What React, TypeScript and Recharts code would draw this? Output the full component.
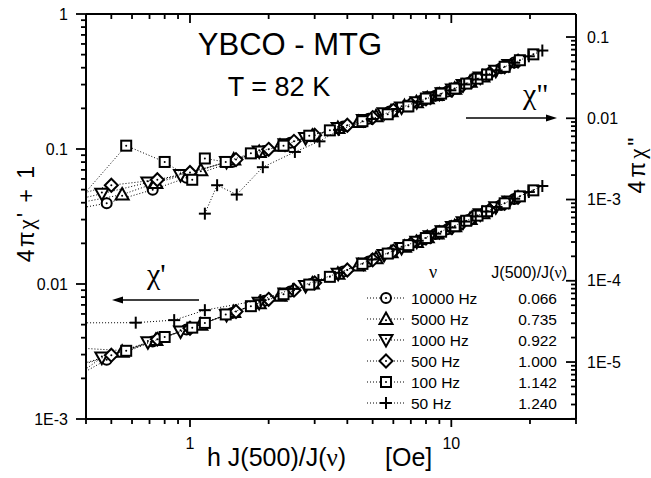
import { ComposedChart, Scatter, XAxis, YAxis } from "recharts";

const SANS = '"Liberation Sans", Arial, sans-serif';
const SERIF = '"Liberation Serif", "Times New Roman", serif';

// field axis h J(500)/J(nu), one list per frequency
const C10000_X = [0.24, 0.48, 0.72, 0.97, 1.45, 1.93, 2.42, 2.9, 3.86, 4.83, 5.8, 6.76, 7.73, 8.69, 9.66, 10.6, 11.6, 13.5, 15.5, 17.4];
const C10000_CHI2 = [6.0e-4, 9.0e-4, 1.32e-3, 1.85e-3, 2.9e-3, 3.95e-3, 5.0e-3, 6.0e-3, 7.9e-3, 9.9e-3, 0.0121, 0.0143, 0.0167, 0.0189, 0.0214, 0.024, 0.0272, 0.0337, 0.0412, 0.0485];
const C10000_CHI1 = [1.3e-3, 2.75e-3, 3.75e-3, 4.6e-3, 6.1e-3, 7.5e-3, 8.8e-3, 0.01, 0.0124, 0.0147, 0.017, 0.0193, 0.0213, 0.0235, 0.0254, 0.0276, 0.0298, 0.0341, 0.0385, 0.0427];

const C5000_X = [0.18, 0.37, 0.55, 0.74, 1.1, 1.47, 1.84, 2.21, 2.94, 3.68, 4.41, 5.15, 5.88, 6.62, 7.35, 8.09, 8.82, 10.3, 11.8, 13.2];
const C5000_CHI2 = [5.0e-4, 9.0e-4, 1.15e-3, 1.6e-3, 2.3e-3, 3.1e-3, 3.85e-3, 4.6e-3, 6.1e-3, 7.6e-3, 9.0e-3, 0.0106, 0.0122, 0.0141, 0.0157, 0.0176, 0.0193, 0.0231, 0.0282, 0.0327];
const C5000_CHI1 = [1.5e-3, 2.45e-3, 3.15e-3, 3.85e-3, 5.0e-3, 6.2e-3, 7.2e-3, 8.2e-3, 0.0101, 0.0119, 0.0137, 0.0155, 0.0172, 0.0189, 0.0205, 0.0222, 0.0237, 0.0268, 0.0303, 0.0334];

const C1000_X = [0.23, 0.46, 0.69, 0.92, 1.38, 1.84, 2.31, 2.77, 3.69, 4.61, 5.53, 6.45, 7.38, 8.3, 9.22, 10.1, 11.1, 12.9, 14.8, 16.6];
const C1000_CHI2 = [7.0e-4, 1.18e-3, 1.62e-3, 2.0e-3, 2.9e-3, 3.9e-3, 4.8e-3, 5.7e-3, 7.6e-3, 9.5e-3, 0.0115, 0.0136, 0.0158, 0.0181, 0.0203, 0.0226, 0.0257, 0.0318, 0.0385, 0.0452];
const C1000_CHI1 = [1.1e-3, 2.85e-3, 3.7e-3, 4.45e-3, 5.9e-3, 7.25e-3, 8.5e-3, 9.65e-3, 0.0119, 0.0142, 0.0164, 0.0185, 0.0206, 0.0226, 0.0246, 0.0264, 0.0287, 0.0328, 0.037, 0.0409];

const C500_X = [0.25, 0.5, 0.75, 1, 1.5, 2, 2.5, 3, 4, 5, 6, 7, 8, 9, 10, 11, 12, 14, 16, 18];
const C500_CHI2 = [8.0e-4, 1.5e-3, 1.75e-3, 2.15e-3, 3.1e-3, 4.15e-3, 5.2e-3, 6.2e-3, 8.2e-3, 0.0102, 0.0125, 0.0149, 0.0173, 0.0198, 0.0222, 0.0254, 0.0287, 0.0356, 0.043, 0.0506];
const C500_CHI1 = [2.0e-3, 2.97e-3, 3.9e-3, 4.7e-3, 6.25e-3, 7.7e-3, 9.0e-3, 0.0102, 0.0127, 0.0151, 0.0175, 0.0198, 0.0219, 0.0241, 0.0262, 0.0284, 0.0308, 0.0352, 0.0396, 0.0439];

const C100_X = [0.29, 0.57, 0.8, 1.02, 1.14, 1.37, 1.71, 2.28, 2.86, 3.43, 4.57, 5.71, 6.85, 7.99, 9.14, 10.3, 11.4, 12.6, 13.7, 16.0, 18.3, 20.6];
const C100_CHI2 = [3.8e-4, 4.6e-3, 2.9e-3, 1.75e-3, 3.2e-3, 2.9e-3, 3.7e-3, 4.6e-3, 6.1e-3, 7.1e-3, 9.2e-3, 0.0112, 0.014, 0.0175, 0.0201, 0.0232, 0.0267, 0.0307, 0.0346, 0.043, 0.0518, 0.0612];
const C100_CHI1 = [3.45e-3, 3.2e-3, 4.05e-3, 4.75e-3, 5.15e-3, 5.95e-3, 6.85e-3, 8.4e-3, 9.9e-3, 0.0113, 0.0141, 0.0168, 0.0194, 0.0219, 0.0244, 0.0268, 0.0294, 0.0321, 0.0346, 0.0396, 0.0446, 0.0494];

// 50 Hz: chi'' only measurable above h ~ 1
const C50_X2 = [1.14, 1.27, 1.51, 1.9, 2.52, 3.13, 3.72, 4.96, 6.2, 7.44, 8.68, 9.92, 11.2, 12.4, 13.6, 14.9, 17.4, 19.8, 22.3];
const C50_CHI2 = [6.7e-4, 1.5e-3, 1.15e-3, 2.5e-3, 3.85e-3, 5.2e-3, 7.2e-3, 9.8e-3, 0.013, 0.016, 0.019, 0.0221, 0.0261, 0.03, 0.0343, 0.0388, 0.0483, 0.0579, 0.0682];
const C50_X1 = [0.31, 0.62, 0.87, 1.14, 1.86, 2.48, 3.1, 3.72, 4.96, 6.2, 7.44, 8.68, 9.92, 11.2, 12.4, 13.6, 14.9, 17.4, 19.8, 22.3];
const C50_CHI1 = [5.15e-3, 5.17e-3, 5.4e-3, 6.4e-3, 7.6e-3, 9.2e-3, 0.0107, 0.0121, 0.0152, 0.0181, 0.0209, 0.0236, 0.0262, 0.029, 0.0317, 0.0344, 0.0372, 0.0428, 0.048, 0.0532];

const FREQ_LABELS = ["10000 Hz", "5000 Hz", "1000 Hz", "500 Hz", "100 Hz", "50 Hz"];
const RATIO_LABELS = ["0.066", "0.735", "0.922", "1.000", "1.142", "1.240"];
const MARKERS = ["circle", "up", "down", "diamond", "square", "plus"];

const X_TICKS = [0.4, 0.5, 0.6, 0.7, 0.8, 0.9, 1, 2, 3, 4, 5, 6, 7, 8, 9, 10, 20, 30];
const L_TICKS = [
  0.001, 0.002, 0.003, 0.004, 0.005, 0.006, 0.007, 0.008, 0.009,
  0.01, 0.02, 0.03, 0.04, 0.05, 0.06, 0.07, 0.08, 0.09,
  0.1, 0.2, 0.3, 0.4, 0.5, 0.6, 0.7, 0.8, 0.9, 1,
];
const R_TICKS = [
  2e-6, 3e-6, 4e-6, 5e-6, 6e-6, 7e-6, 8e-6, 9e-6,
  1e-5, 2e-5, 3e-5, 4e-5, 5e-5, 6e-5, 7e-5, 8e-5, 9e-5,
  1e-4, 2e-4, 3e-4, 4e-4, 5e-4, 6e-4, 7e-4, 8e-4, 9e-4,
  1e-3, 2e-3, 3e-3, 4e-3, 5e-3, 6e-3, 7e-3, 8e-3, 9e-3,
  0.01, 0.02, 0.03, 0.04, 0.05, 0.06, 0.07, 0.08, 0.09, 0.1,
];
const X_LABELS: Record<string, string> = { "1": "1", "10": "10" };
const L_LABELS: Record<string, string> = { "1": "1", "0.1": "0.1", "0.01": "0.01", "0.001": "1E-3" };
const R_LABELS: Record<string, string> = { "0.1": "0.1", "0.01": "0.01", "0.001": "1E-3", "0.0001": "1E-4", "0.00001": "1E-5" };

const pts = (xs: number[], ys: number[]) => xs.map((x, i) => ({ x, y: ys[i] }));

const CHI1_SETS = [
  pts(C10000_X, C10000_CHI1),
  pts(C5000_X, C5000_CHI1),
  pts(C1000_X, C1000_CHI1),
  pts(C500_X, C500_CHI1),
  pts(C100_X, C100_CHI1),
  pts(C50_X1, C50_CHI1),
];
const CHI2_SETS = [
  pts(C10000_X, C10000_CHI2),
  pts(C5000_X, C5000_CHI2),
  pts(C1000_X, C1000_CHI2),
  pts(C500_X, C500_CHI2),
  pts(C100_X, C100_CHI2),
  pts(C50_X2, C50_CHI2),
];

const isDecade = (v: number) => {
  const l = Math.log10(v);
  return Math.abs(l - Math.round(l)) < 1e-9;
};

function Marker({ kind, cx, cy }: { kind: string; cx: number; cy: number }) {
  const s = { stroke: "#000", strokeWidth: 2, fill: "#fff" };
  const dot = (dy = 0) => <circle cx={cx} cy={cy + dy} r={1} fill="#000" />;
  switch (kind) {
    case "circle":
      return (
        <g>
          <circle cx={cx} cy={cy} r={5} {...s} />
          {dot()}
        </g>
      );
    case "up":
      return (
        <g>
          <polygon points={`${cx},${cy - 6.5} ${cx + 6.5},${cy + 5} ${cx - 6.5},${cy + 5}`} {...s} />
          {dot(1.2)}
        </g>
      );
    case "down":
      return (
        <g>
          <polygon points={`${cx},${cy + 6.5} ${cx + 6.5},${cy - 5} ${cx - 6.5},${cy - 5}`} {...s} />
          {dot(-1.2)}
        </g>
      );
    case "diamond":
      return (
        <g>
          <polygon points={`${cx},${cy - 6.5} ${cx + 6.5},${cy} ${cx},${cy + 6.5} ${cx - 6.5},${cy}`} {...s} />
          {dot()}
        </g>
      );
    case "square":
      return (
        <g>
          <rect x={cx - 5} y={cy - 5} width={10} height={10} {...s} />
          {dot()}
        </g>
      );
    default:
      return (
        <g stroke="#000" strokeWidth={2}>
          <line x1={cx - 6} x2={cx + 6} y1={cy} y2={cy} />
          <line x1={cx} x2={cx} y1={cy - 6} y2={cy + 6} />
        </g>
      );
  }
}

const tickText = { fontFamily: SANS, fontSize: 16, fill: "#000" };
const tickStroke = { stroke: "#000", strokeWidth: 1.8 };

// tick renderers: tickSize/tickMargin are 0, so x/y sit on the axis line
function BottomTick({ x, y, payload }: any) {
  const v = payload.value;
  const px = Number(x);
  const py = Number(y);
  const label = X_LABELS[String(v)];
  return (
    <g>
      <line x1={px} x2={px} y1={py} y2={py + (isDecade(v) ? 8 : 5)} {...tickStroke} />
      {label && (
        <text x={px} y={py + 30} textAnchor="middle" {...tickText}>
          {label}
        </text>
      )}
    </g>
  );
}

function TopTick({ x, y, payload }: any) {
  const v = payload.value;
  const px = Number(x);
  const py = Number(y);
  return (
    <g>
      <line x1={px} x2={px} y1={py} y2={py + (isDecade(v) ? 9 : 5)} {...tickStroke} />
    </g>
  );
}

function LeftTick({ x, y, payload }: any) {
  const v = payload.value;
  const px = Number(x);
  const py = Number(y);
  const label = L_LABELS[String(v)];
  return (
    <g>
      <line x1={px - (isDecade(v) ? 10 : 5)} x2={px} y1={py} y2={py} {...tickStroke} />
      {label && (
        <text x={px - 18} y={py + 5.5} textAnchor="end" {...tickText}>
          {label}
        </text>
      )}
    </g>
  );
}

function RightTick({ x, y, payload }: any) {
  const v = payload.value;
  const px = Number(x);
  const py = Number(y);
  const label = R_LABELS[String(v)];
  return (
    <g>
      <line x1={px - (isDecade(v) ? 10 : 5)} x2={px} y1={py} y2={py} {...tickStroke} />
      {label && (
        <text x={px + 11} y={py + 5.5} textAnchor="start" {...tickText}>
          {label}
        </text>
      )}
    </g>
  );
}

const dotted = { stroke: "#000", strokeWidth: 1, strokeDasharray: "1 2" };
const frame = { stroke: "#000", strokeWidth: 2 };

// titles, arrows and the legend box, drawn underneath the chart svg
function Overlay() {
  const rows = [298, 319, 340, 361, 382, 403];
  return (
    <svg width={651} height={478} style={{ position: "absolute", left: 0, top: 0, pointerEvents: "none" }}>
      <text x={290} y={55} textAnchor="middle" fontFamily={SANS} fontSize={31}>
        YBCO - MTG
      </text>
      <text x={279} y={96} textAnchor="middle" fontFamily={SANS} fontSize={27}>
        T = 82 K
      </text>

      <text x={523} y={104} fontFamily={SERIF} fontSize={30}>
        χ"
      </text>
      <line x1={466} x2={548} y1={118} y2={118} stroke="#000" strokeWidth={1.6} />
      <polygon points="557,118 546,114.5 546,121.5" fill="#000" />

      <text x={147} y={284} fontFamily={SERIF} fontSize={30}>
        χ'
      </text>
      <line x1={121} x2={199} y1={300} y2={300} stroke="#000" strokeWidth={1.6} />
      <polygon points="112,300 123,296.5 123,303.5" fill="#000" />

      <text
        transform="translate(34,213) rotate(-90)"
        textAnchor="middle"
        fontFamily={SANS}
        fontSize={23}
        letterSpacing={2}
      >
        4π<tspan fontFamily={SERIF}>χ</tspan>' + 1
      </text>
      <text
        transform="translate(645,164) rotate(-90)"
        textAnchor="middle"
        fontFamily={SANS}
        fontSize={23}
        letterSpacing={3}
      >
        4π<tspan fontFamily={SERIF}>χ</tspan>"
      </text>
      <text x={207} y={466} fontFamily={SANS} fontSize={25}>
        h J(500)/J(<tspan fontFamily={SERIF}>ν</tspan>)
      </text>
      <text x={385} y={466} fontFamily={SANS} fontSize={25}>
        [Oe]
      </text>

      <text x={433} y={278} textAnchor="middle" fontFamily={SERIF} fontSize={18}>
        ν
      </text>
      <text x={567} y={278} textAnchor="end" fontFamily={SANS} fontSize={16}>
        J(500)/J(<tspan fontFamily={SERIF}>ν</tspan>)
      </text>
      {rows.map((ry, i) => (
        <g key={FREQ_LABELS[i]}>
          <line x1={367} x2={405} y1={ry} y2={ry} {...dotted} />
          <Marker kind={MARKERS[i]} cx={386} cy={ry} />
          <text x={411} y={ry + 5.5} fontFamily={SANS} fontSize={15.5}>
            {FREQ_LABELS[i]}
          </text>
          <text x={557} y={ry + 5.5} textAnchor="end" fontFamily={SANS} fontSize={15.5}>
            {RATIO_LABELS[i]}
          </text>
        </g>
      ))}
    </svg>
  );
}

export default function App() {
  return (
    <div style={{ position: "absolute", left: 0, top: 0, width: 651, height: 478, background: "#fff" }}>
      <Overlay />
      <div style={{ position: "absolute", left: 0, top: 0 }}>
        <ComposedChart width={651} height={478} margin={{ top: 13, right: 74, bottom: 58, left: 85 }}>
          <XAxis
            xAxisId="b"
            type="number"
            dataKey="x"
            scale="log"
            domain={[0.4, 30]}
            ticks={X_TICKS}
            interval={0}
            allowDataOverflow
            height={1}
            tickSize={0}
            tickMargin={0}
            tickLine={false}
            axisLine={frame}
            tick={BottomTick}
          />
          <XAxis
            xAxisId="t"
            orientation="top"
            type="number"
            dataKey="x"
            scale="log"
            domain={[0.4, 30]}
            ticks={X_TICKS}
            interval={0}
            allowDataOverflow
            height={1}
            tickSize={0}
            tickMargin={0}
            tickLine={false}
            axisLine={frame}
            tick={TopTick}
          />
          <YAxis
            yAxisId="L"
            type="number"
            dataKey="y"
            scale="log"
            domain={[0.001, 1]}
            ticks={L_TICKS}
            interval={0}
            allowDataOverflow
            width={1}
            tickSize={0}
            tickMargin={0}
            tickLine={false}
            axisLine={frame}
            tick={LeftTick}
          />
          <YAxis
            yAxisId="R"
            orientation="right"
            type="number"
            dataKey="y"
            scale="log"
            domain={[1.99e-6, 0.192]}
            ticks={R_TICKS}
            interval={0}
            allowDataOverflow
            width={1}
            tickSize={0}
            tickMargin={0}
            tickLine={false}
            axisLine={frame}
            tick={RightTick}
          />
          {CHI1_SETS.map((d, i) => (
            <Scatter
              key={"chi1-" + i}
              name={FREQ_LABELS[i]}
              data={d}
              xAxisId="b"
              yAxisId="L"
              line={dotted}
              lineType="joint"
              shape={(p: any) => <Marker kind={MARKERS[i]} cx={p.cx} cy={p.cy} />}
              isAnimationActive={false}
            />
          ))}
          {CHI2_SETS.map((d, i) => (
            <Scatter
              key={"chi2-" + i}
              name={FREQ_LABELS[i]}
              data={d}
              xAxisId="b"
              yAxisId="R"
              line={dotted}
              lineType="joint"
              shape={(p: any) => <Marker kind={MARKERS[i]} cx={p.cx} cy={p.cy} />}
              isAnimationActive={false}
            />
          ))}
        </ComposedChart>
      </div>
    </div>
  );
}
